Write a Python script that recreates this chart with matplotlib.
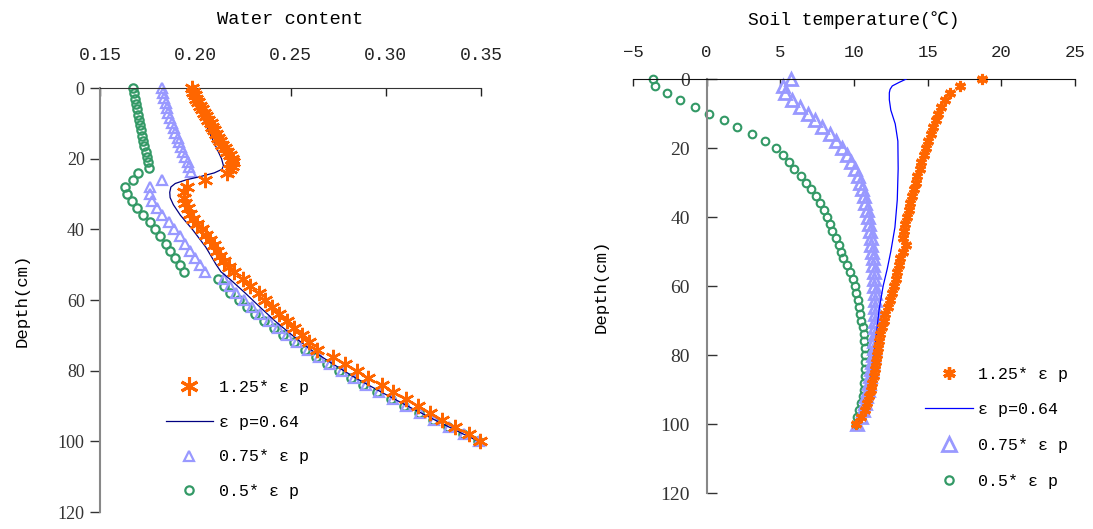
import matplotlib

matplotlib.use("Agg")
import matplotlib.pyplot as plt
from matplotlib.lines import Line2D

MONO = ["Liberation Mono", "Noto Sans CJK SC", "DejaVu Sans"]
SERIF = ["Liberation Serif", "DejaVu Serif"]

ORANGE = "#FF6600"
LAVENDER = "#9999FF"
GREEN = "#339966"

LABELS = ["1.25* ε p", "ε p=0.64", "0.75* ε p", "0.5* ε p"]

# ---- left panel: water content vs depth ----
star_depth_l = [0, 1, 2, 3, 4, 5, 6, 7, 8, 9, 10, 11, 12, 13, 14, 15, 16, 17, 18, 19, 20, 21, 22, 23, 24,
                26, 28, 29.5, 31, 32.5, 34, 35.5, 37, 38.5, 40, 41.5, 43, 44.5, 46, 47.5, 49, 50.5, 52,
                54, 56, 58, 60, 62, 64, 66, 68, 70, 72, 74, 76, 78, 80, 82, 84, 86, 88, 90, 92, 94, 96, 98, 100]
star_water_l = [0.1983, 0.1990, 0.1998, 0.2005, 0.2015, 0.2025, 0.2035, 0.2046, 0.2057, 0.2068, 0.2080,
                0.2090, 0.2100, 0.2110, 0.2120, 0.2130, 0.2142, 0.2155, 0.2168, 0.2180, 0.2192, 0.2200,
                0.2195, 0.2182, 0.2167,
                0.2049, 0.1956, 0.1942, 0.1940, 0.1948, 0.1960, 0.1972, 0.1990, 0.2010, 0.2033, 0.2055,
                0.2078, 0.2098, 0.2115, 0.2130, 0.2150, 0.2175, 0.2205,
                0.2250, 0.2289, 0.2333, 0.2368, 0.2404, 0.2439, 0.2483, 0.2518, 0.2562, 0.2596, 0.2640,
                0.2725, 0.2785, 0.2850, 0.2905, 0.2978, 0.3040, 0.3105, 0.3170, 0.3230, 0.3295, 0.3365,
                0.3435, 0.3495]

line_depth_l = [0, 5, 10, 15, 20, 22, 23, 24, 25, 26, 27, 28, 29.5, 31, 33, 36, 40, 45, 50, 52,
                54, 58, 62, 66, 70, 74, 78, 82, 86, 90, 94, 98, 100]
line_water_l = [0.1974, 0.2012, 0.2052, 0.2095, 0.2138, 0.2148, 0.2140, 0.2100, 0.2030, 0.1950, 0.1895,
                0.1872, 0.1866, 0.1868, 0.1885, 0.1922, 0.1985, 0.2055, 0.2110, 0.2135,
                0.2180, 0.2262, 0.2340, 0.2420, 0.2510, 0.2605, 0.2720, 0.2840, 0.2975, 0.3115, 0.3260,
                0.3410, 0.3488]

tri_depth_l = [0, 1.4, 2.8, 4.2, 5.6, 7, 8.4, 9.8, 11.2, 12.6, 14, 15.4, 16.8, 18.2, 19.6, 21, 22.4, 23.8,
               26, 28, 30, 32, 34, 36, 38, 40, 42, 44, 46, 48, 50, 52,
               54, 56, 58, 60, 62, 64, 66, 68, 70, 72, 74, 76, 78, 80, 82, 84, 86, 88, 90, 92, 94, 96, 98, 100]
tri_water_l = [0.1828, 0.1833, 0.1838, 0.1846, 0.1851, 0.1859, 0.1868, 0.1877, 0.1886, 0.1895, 0.1907,
               0.1917, 0.1926, 0.1935, 0.1947, 0.1960, 0.1968, 0.1979,
               0.1824, 0.1763, 0.1760, 0.1772, 0.1798, 0.1825, 0.1860, 0.1889, 0.1918, 0.1947, 0.1974,
               0.2000, 0.2026, 0.2049,
               0.2152, 0.2182, 0.2216, 0.2258, 0.2300, 0.2342, 0.2387, 0.2434, 0.2482, 0.2536, 0.2591,
               0.2648, 0.2709, 0.2771, 0.2834, 0.2896, 0.2965, 0.3037, 0.3106, 0.3181, 0.3254, 0.3332,
               0.3409, 0.3487]

circ_depth_l = [0, 1.5, 3, 4.5, 6, 7.5, 9, 10.5, 12, 13.5, 15, 16.5, 18, 19.5, 21, 22.5,
                24, 26, 28, 30, 32, 34, 36, 38, 40, 42, 44, 46, 48, 50, 52,
                54, 56, 58, 60, 62, 64, 66, 68, 70, 72, 74, 76, 78, 80, 82, 84, 86, 88, 90, 92, 94, 96, 98, 100]
circ_water_l = [0.1675, 0.1680, 0.1684, 0.1689, 0.1696, 0.1702, 0.1707, 0.1712, 0.1717, 0.1722, 0.1728,
                0.1733, 0.1740, 0.1746, 0.1754, 0.1759,
                0.1698, 0.1672, 0.1632, 0.1644, 0.1667, 0.1693, 0.1728, 0.1760, 0.1789, 0.1816, 0.1847,
                0.1868, 0.1895, 0.1918, 0.1939,
                0.2119, 0.2149, 0.2184, 0.2228, 0.2272, 0.2316, 0.2363, 0.2412, 0.2462, 0.2518, 0.2574,
                0.2632, 0.2693, 0.2756, 0.2820, 0.2883, 0.2953, 0.3026, 0.3096, 0.3172, 0.3246, 0.3325,
                0.3403, 0.3482]

water_ticks = [0.15, 0.20, 0.25, 0.30, 0.35]
water_ticklabels = ["0.15", "0.20", "0.25", "0.30", "0.35"]

# ---- right panel: soil temperature vs depth ----
depth_r = [0, 2, 4, 6, 8, 10, 12, 14, 16, 18, 20, 22, 24, 26, 28, 30, 32, 34, 36, 38, 40, 42, 44, 46, 48, 50,
           52, 54, 56, 58, 60, 62, 64, 66, 68, 70, 72, 74, 76, 78, 80, 82, 84, 86, 88, 90, 92, 94, 96, 98, 100]
star_temp_r = [18.72, 17.2, 16.5, 16.15, 15.93, 15.73, 15.56, 15.38, 15.2, 15.03, 14.88, 14.72, 14.58,
               14.45, 14.31, 14.19, 14.08, 13.95, 13.82, 13.71, 13.6, 13.49, 13.4, 13.3, 13.5, 13.32,
               13.15, 13.05, 12.95, 12.85, 12.73, 12.57, 12.43, 12.28, 12.14, 12.02, 11.9, 11.79, 11.71,
               11.63, 11.56, 11.5, 11.43, 11.36, 11.25, 11.13, 11.01, 10.89, 10.72, 10.5, 10.15]
tri_temp_r = [5.7, 5.2, 5.35, 5.8, 6.35, 6.85, 7.35, 7.85, 8.35, 8.8, 9.2, 9.55, 9.82, 10.05, 10.25, 10.43,
              10.56, 10.67, 10.78, 10.86, 10.95, 11.02, 11.09, 11.13, 11.18, 11.23, 11.27, 11.3, 11.33,
              11.36, 11.38, 11.4, 11.42, 11.44, 11.45, 11.45, 11.44, 11.42, 11.39, 11.35, 11.3, 11.24,
              11.18, 11.1, 11.02, 10.93, 10.83, 10.72, 10.6, 10.45, 10.2]
circ_temp_r = [-3.64, -3.51, -2.72, -1.81, -0.81, 0.16, 1.18, 2.08, 3.05, 3.94, 4.73, 5.2, 5.59, 5.93,
               6.38, 6.77, 7.06, 7.4, 7.69, 7.96, 8.19, 8.37, 8.53, 8.76, 8.98, 9.1, 9.25, 9.5, 9.75, 9.94,
               10.05, 10.15, 10.27, 10.36, 10.43, 10.5, 10.58, 10.65, 10.7, 10.74, 10.75, 10.75, 10.75,
               10.74, 10.71, 10.66, 10.58, 10.47, 10.36, 10.24, 10.16]
line_depth_r = [0, 1, 2, 3, 4, 6, 9, 13, 18, 26, 35, 43, 50, 55, 60, 67, 75, 80, 85, 90, 95, 100]
line_temp_r = [13.55, 13.05, 12.6, 12.45, 12.4, 12.4, 12.5, 12.8, 12.98, 13.0, 12.94, 12.78, 12.5, 12.26,
               11.98, 11.7, 11.5, 11.38, 11.22, 11.02, 10.75, 10.25]

temp_ticks = [-5, 0, 5, 10, 15, 20, 25]
depth_ticks = [0, 20, 40, 60, 80, 100, 120]

STAR = (6, 2, 0)

fig = plt.figure(figsize=(10.93, 5.29), dpi=100)
ax1 = fig.add_axes([0.0915, 0.032, 0.3486, 0.8015])
ax2 = fig.add_axes([0.5791, 0.068, 0.4044, 0.7826])

# left
ax1.plot(line_water_l, line_depth_l, color="#000080", lw=0.9, zorder=3)
ax1.plot(circ_water_l, circ_depth_l, ls="none", marker="o", ms=6, mfc="none", mec=GREEN, mew=1.6,
         clip_on=False, zorder=2)
ax1.plot(tri_water_l, tri_depth_l, ls="none", marker="^", ms=6.5, mfc="none", mec=LAVENDER, mew=1.6,
         clip_on=False, zorder=2)
ax1.plot(star_water_l, star_depth_l, ls="none", marker=STAR, ms=11, mec=ORANGE, mew=1.8,
         clip_on=False, zorder=4)

ax1.set_xlim(0.15, 0.35)
ax1.set_ylim(120, 0)
ax1.set_xticks(water_ticks)
ax1.set_xticklabels(water_ticklabels)
ax1.set_yticks(depth_ticks)
ax1.xaxis.tick_top()
ax1.xaxis.set_label_position("top")
ax1.tick_params(axis="x", direction="in", length=6, width=1, pad=17, labelsize=13, colors="#222222")
ax1.tick_params(axis="y", direction="out", length=7, width=1, pad=4, labelsize=13, colors="#333333")
for lab in ax1.get_xticklabels():
    lab.set_family(MONO)
for lab in ax1.get_yticklabels():
    lab.set_family(SERIF)
ax1.set_xlabel("Water content", family=MONO, fontsize=13.5, labelpad=17)
ax1.set_ylabel("Depth(cm)", family=MONO, fontsize=12.5)
ax1.yaxis.set_label_coords(-0.186, 0.5)
ax1.spines["right"].set_visible(False)
ax1.spines["bottom"].set_visible(False)
ax1.spines["top"].set_color("#333333")
ax1.spines["left"].set_color("#888888")
ax1.spines["left"].set_linewidth(1.5)

handles1 = [
    Line2D([], [], ls="none", marker=STAR, ms=13, mec=ORANGE, mew=2.2),
    Line2D([], [], color="#000080", lw=0.9),
    Line2D([], [], ls="none", marker="^", ms=7, mfc="none", mec=LAVENDER, mew=1.6),
    Line2D([], [], ls="none", marker="o", ms=6, mfc="none", mec=GREEN, mew=1.6),
]
fig.legend(handles1, LABELS, loc="upper left", bbox_to_anchor=(0.152, 0.282), frameon=False,
           prop={"family": MONO, "size": 12}, handlelength=2.8, handletextpad=0.4, labelspacing=1.19,
           borderpad=0, borderaxespad=0)

# right
ax2.plot(line_temp_r, line_depth_r, color="#0000FF", lw=0.9, zorder=3)
ax2.plot(circ_temp_r, depth_r, ls="none", marker="o", ms=5.5, mfc="none", mec=GREEN, mew=1.5,
         clip_on=False, zorder=2)
ax2.plot(tri_temp_r, depth_r, ls="none", marker="^", ms=9, mfc="none", mec=LAVENDER, mew=2,
         clip_on=False, zorder=2)
ax2.plot(star_temp_r, depth_r, ls="none", marker=STAR, ms=8, mec=ORANGE, mew=2.2,
         clip_on=False, zorder=4)

ax2.set_xlim(-5, 25)
ax2.set_ylim(120, 0)
ax2.set_xticks(temp_ticks)
ax2.set_yticks(depth_ticks)
ax2.xaxis.tick_top()
ax2.xaxis.set_label_position("top")
ax2.spines["left"].set_position(("data", 0))
ax2.tick_params(axis="x", direction="in", length=5, width=1, pad=14, labelsize=12.5, colors="#222222")
ax2.tick_params(axis="y", direction="in", length=7, width=1, pad=12, labelsize=14, colors="#333333")
for lab in ax2.get_xticklabels():
    lab.set_family(MONO)
for lab in ax2.get_yticklabels():
    lab.set_family(SERIF)
ax2.set_xlabel("Soil temperature(℃)", family=MONO, fontsize=13, labelpad=14)
ax2.set_ylabel("Depth(cm)", family=MONO, fontsize=12.5)
ax2.yaxis.set_label_coords(-0.055, 0.5)
ax2.spines["right"].set_visible(False)
ax2.spines["bottom"].set_visible(False)
ax2.spines["top"].set_color("#111111")
ax2.spines["left"].set_color("#888888")
ax2.spines["left"].set_linewidth(1.5)

handles2 = [
    Line2D([], [], ls="none", marker=STAR, ms=9, mec=ORANGE, mew=2.4),
    Line2D([], [], color="#0000FF", lw=0.9),
    Line2D([], [], ls="none", marker="^", ms=10, mfc="none", mec=LAVENDER, mew=2),
    Line2D([], [], ls="none", marker="o", ms=6, mfc="none", mec=GREEN, mew=1.6),
]
fig.legend(handles2, LABELS, loc="upper left", bbox_to_anchor=(0.846, 0.307), frameon=False,
           prop={"family": MONO, "size": 12}, handlelength=2.9, handletextpad=0.3, labelspacing=1.24,
           borderpad=0, borderaxespad=0)

fig.savefig("out.png", dpi=100)
